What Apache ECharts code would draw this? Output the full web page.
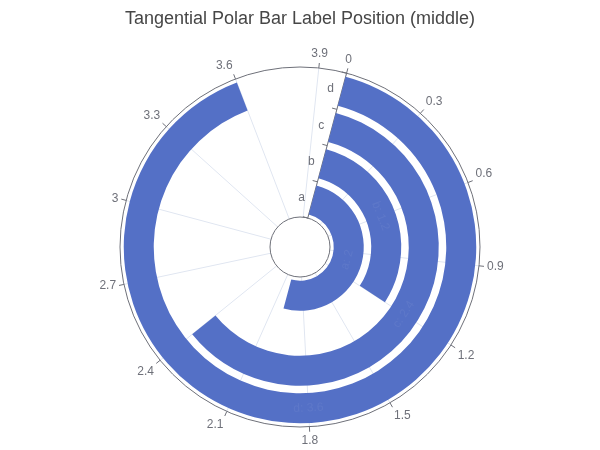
<!DOCTYPE html>
<html><head><meta charset="utf-8">
<script src="https://cdn.jsdelivr.net/npm/echarts@6/dist/echarts.min.js"></script>
<style>html,body{margin:0;padding:0;background:#fff}#main{width:600px;height:450px}</style>
</head><body><div id="main"></div>
<script>
var categories = ['a', 'b', 'c', 'd'];
var values = [2, 1.2, 2.4, 3.6];
var angleMax = 4;
var angleInterval = 0.3;

var chart = echarts.init(document.getElementById('main'), null, {renderer: 'canvas'});
chart.setOption({
  animation: false,
  title: {
    text: 'Tangential Polar Bar Label Position (middle)',
    left: 'center',
    top: 5,
    textStyle: {fontFamily: 'Liberation Sans, Arial, sans-serif', fontSize: 18, fontWeight: 'normal', color: '#464646'}
  },
  polar: {radius: [30, '80%'], center: ['50%', 247]},
  angleAxis: {
    max: angleMax, min: 0, interval: angleInterval, startAngle: 75,
    axisLabel: {color: '#6E7079', fontSize: 12, fontFamily: 'Liberation Sans, Arial, sans-serif'},
    axisLine: {lineStyle: {color: '#6E7079'}},
    splitLine: {show: true, lineStyle: {color: '#E0E6F1'}}
  },
  radiusAxis: {
    type: 'category', data: categories,
    axisLabel: {color: '#6E7079', fontSize: 12, fontFamily: 'Liberation Sans, Arial, sans-serif'},
    axisLine: {lineStyle: {color: '#6E7079'}}
  },
  series: [{
    type: 'bar',
    data: values,
    coordinateSystem: 'polar',
    itemStyle: {color: '#5470c6'},
    label: {
      show: true, position: 'middle', rotate: 'tangential',
      formatter: '{b}: {c}',
      color: 'rgba(255,255,255,0.06)', textBorderWidth: 0,
      fontFamily: 'Liberation Sans, Arial, sans-serif', fontSize: 12
    }
  }]
});
</script></body></html>
